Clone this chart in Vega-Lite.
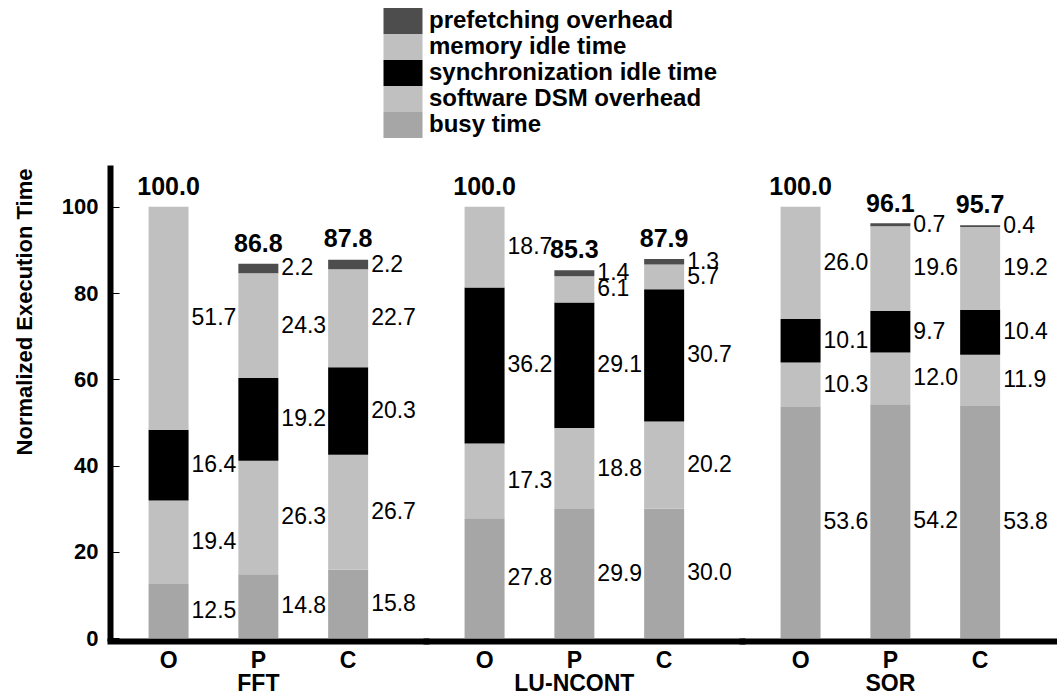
{
  "$schema": "https://vega.github.io/schema/vega-lite/v6.json",
  "padding": {"left": 13, "top": 8, "right": 0, "bottom": 0},
  "config": {
    "font": "Liberation Sans",
    "view": {"stroke": null},
    "axisX": {
      "title": null,
      "labelAngle": 0,
      "labelFontSize": 23,
      "labelFontWeight": "bold",
      "labelColor": "black",
      "labelPadding": 8,
      "labelLineHeight": 23,
      "ticks": false,
      "domainWidth": 6,
      "domainColor": "black",
      "domainCap": "square",
      "offset": 3
    },
    "legend": {
      "symbolType": "M-1.5,-1H1.5V1H-1.5Z",
      "symbolSize": 676,
      "symbolStrokeWidth": 0,
      "symbolOpacity": 1,
      "rowPadding": 0,
      "labelFont": "Liberation Sans",
      "labelFontSize": 24,
      "labelFontWeight": "bold",
      "labelColor": "black",
      "labelOffset": 13,
      "labelLimit": 600
    }
  },
  "bounds": "flush",
  "spacing": 0,
  "resolve": {"scale": {"y": "shared", "color": "shared", "x": "independent"}},
  "data": {
    "values": [
      {"bench": "FFT", "config": "O", "component": "busy time", "layer": 1, "value": 12.5},
      {"bench": "FFT", "config": "O", "component": "software DSM overhead", "layer": 2, "value": 19.4},
      {"bench": "FFT", "config": "O", "component": "synchronization idle time", "layer": 3, "value": 16.4},
      {"bench": "FFT", "config": "O", "component": "memory idle time", "layer": 4, "value": 51.7},
      {"bench": "FFT", "config": "O", "component": "total", "layer": 9, "value": 100.0},
      {"bench": "FFT", "config": "P", "component": "busy time", "layer": 1, "value": 14.8},
      {"bench": "FFT", "config": "P", "component": "software DSM overhead", "layer": 2, "value": 26.3},
      {"bench": "FFT", "config": "P", "component": "synchronization idle time", "layer": 3, "value": 19.2},
      {"bench": "FFT", "config": "P", "component": "memory idle time", "layer": 4, "value": 24.3},
      {"bench": "FFT", "config": "P", "component": "prefetching overhead", "layer": 5, "value": 2.2},
      {"bench": "FFT", "config": "P", "component": "total", "layer": 9, "value": 86.8},
      {"bench": "FFT", "config": "C", "component": "busy time", "layer": 1, "value": 15.8},
      {"bench": "FFT", "config": "C", "component": "software DSM overhead", "layer": 2, "value": 26.7},
      {"bench": "FFT", "config": "C", "component": "synchronization idle time", "layer": 3, "value": 20.3},
      {"bench": "FFT", "config": "C", "component": "memory idle time", "layer": 4, "value": 22.7},
      {"bench": "FFT", "config": "C", "component": "prefetching overhead", "layer": 5, "value": 2.2},
      {"bench": "FFT", "config": "C", "component": "total", "layer": 9, "value": 87.8},
      {"bench": "LU-NCONT", "config": "O", "component": "busy time", "layer": 1, "value": 27.8},
      {"bench": "LU-NCONT", "config": "O", "component": "software DSM overhead", "layer": 2, "value": 17.3},
      {"bench": "LU-NCONT", "config": "O", "component": "synchronization idle time", "layer": 3, "value": 36.2},
      {"bench": "LU-NCONT", "config": "O", "component": "memory idle time", "layer": 4, "value": 18.7},
      {"bench": "LU-NCONT", "config": "O", "component": "total", "layer": 9, "value": 100.0},
      {"bench": "LU-NCONT", "config": "P", "component": "busy time", "layer": 1, "value": 29.9},
      {"bench": "LU-NCONT", "config": "P", "component": "software DSM overhead", "layer": 2, "value": 18.8},
      {"bench": "LU-NCONT", "config": "P", "component": "synchronization idle time", "layer": 3, "value": 29.1},
      {"bench": "LU-NCONT", "config": "P", "component": "memory idle time", "layer": 4, "value": 6.1},
      {"bench": "LU-NCONT", "config": "P", "component": "prefetching overhead", "layer": 5, "value": 1.4},
      {"bench": "LU-NCONT", "config": "P", "component": "total", "layer": 9, "value": 85.3},
      {"bench": "LU-NCONT", "config": "C", "component": "busy time", "layer": 1, "value": 30.0},
      {"bench": "LU-NCONT", "config": "C", "component": "software DSM overhead", "layer": 2, "value": 20.2},
      {"bench": "LU-NCONT", "config": "C", "component": "synchronization idle time", "layer": 3, "value": 30.7},
      {"bench": "LU-NCONT", "config": "C", "component": "memory idle time", "layer": 4, "value": 5.7},
      {"bench": "LU-NCONT", "config": "C", "component": "prefetching overhead", "layer": 5, "value": 1.3},
      {"bench": "LU-NCONT", "config": "C", "component": "total", "layer": 9, "value": 87.9},
      {"bench": "SOR", "config": "O", "component": "busy time", "layer": 1, "value": 53.6},
      {"bench": "SOR", "config": "O", "component": "software DSM overhead", "layer": 2, "value": 10.3},
      {"bench": "SOR", "config": "O", "component": "synchronization idle time", "layer": 3, "value": 10.1},
      {"bench": "SOR", "config": "O", "component": "memory idle time", "layer": 4, "value": 26.0},
      {"bench": "SOR", "config": "O", "component": "total", "layer": 9, "value": 100.0},
      {"bench": "SOR", "config": "P", "component": "busy time", "layer": 1, "value": 54.2},
      {"bench": "SOR", "config": "P", "component": "software DSM overhead", "layer": 2, "value": 12.0},
      {"bench": "SOR", "config": "P", "component": "synchronization idle time", "layer": 3, "value": 9.7},
      {"bench": "SOR", "config": "P", "component": "memory idle time", "layer": 4, "value": 19.6},
      {"bench": "SOR", "config": "P", "component": "prefetching overhead", "layer": 5, "value": 0.7},
      {"bench": "SOR", "config": "P", "component": "total", "layer": 9, "value": 96.1},
      {"bench": "SOR", "config": "C", "component": "busy time", "layer": 1, "value": 53.8},
      {"bench": "SOR", "config": "C", "component": "software DSM overhead", "layer": 2, "value": 11.9},
      {"bench": "SOR", "config": "C", "component": "synchronization idle time", "layer": 3, "value": 10.4},
      {"bench": "SOR", "config": "C", "component": "memory idle time", "layer": 4, "value": 19.2},
      {"bench": "SOR", "config": "C", "component": "prefetching overhead", "layer": 5, "value": 0.4},
      {"bench": "SOR", "config": "C", "component": "total", "layer": 9, "value": 95.7}
    ]
  },
  "hconcat": [
    {
      "width": 316,
      "height": 470,
      "transform": [{"filter": "datum.bench === 'FFT'"}],
      "encoding": {
        "x": {
          "field": "config",
          "type": "nominal",
          "sort": ["O", "P", "C"],
          "scale": {"paddingInner": 0.5546, "paddingOuter": 0.537, "align": 0.4},
          "axis": {"labelExpr": "datum.value === 'P' ? ['P', 'FFT'] : datum.value"}
        }
      },
      "layer": [
        {
          "transform": [{"filter": "datum.component !== 'total'"}],
          "mark": {"type": "bar"},
          "encoding": {
            "y": {
              "field": "value",
              "type": "quantitative",
              "stack": "zero",
              "scale": {"domain": [0, 109], "nice": false},
              "axis": {
                "title": "Normalized Execution Time",
                "titleAnchor": "end",
                "values": [0, 20, 40, 60, 80, 100],
                "grid": false,
                "domainWidth": 6,
                "domainColor": "black",
                "domainCap": "square",
                "tickColor": "black",
                "tickSize": -9,
                "tickWidth": 1,
                "labelFontSize": 22,
                "labelFontWeight": "bold",
                "labelColor": "black",
                "labelPadding": 21,
                "titleFontSize": 22,
                "titleFontWeight": "bold",
                "titleColor": "black",
                "titlePadding": 25
              }
            },
            "order": {"field": "layer", "type": "quantitative"},
            "color": {
              "field": "component",
              "type": "nominal",
              "scale": {
                "domain": ["prefetching overhead", "memory idle time", "synchronization idle time", "software DSM overhead", "busy time"],
                "range": ["#4d4d4d", "#c0c0c0", "#000000", "#c0c0c0", "#a6a6a6"]
              },
              "legend": {"title": null, "orient": "none", "legendX": 280, "legendY": -160}
            }
          }
        },
        {
          "transform": [
            {"filter": "datum.component !== 'total'"},
            {"stack": "value", "groupby": ["bench", "config"], "sort": [{"field": "layer", "order": "ascending"}], "as": ["v0", "v1"]},
            {"calculate": "(datum.v0 + datum.v1) / 2", "as": "mid"}
          ],
          "mark": {"type": "text", "align": "left", "baseline": "middle", "dx": 23, "fontSize": 23, "font": "Liberation Sans", "color": "black"},
          "encoding": {
            "y": {"field": "mid", "type": "quantitative"},
            "text": {"field": "value", "type": "quantitative", "format": ".1f"}
          }
        },
        {
          "transform": [{"filter": "datum.component === 'total'"}],
          "mark": {"type": "text", "align": "center", "baseline": "bottom", "dy": -7, "fontSize": 25, "fontWeight": "bold", "font": "Liberation Sans", "color": "black"},
          "encoding": {
            "y": {"field": "value", "type": "quantitative"},
            "text": {"field": "value", "type": "quantitative", "format": ".1f"}
          }
        }
      ]
    },
    {
      "width": 316,
      "height": 470,
      "transform": [{"filter": "datum.bench === 'LU-NCONT'"}],
      "encoding": {
        "x": {
          "field": "config",
          "type": "nominal",
          "sort": ["O", "P", "C"],
          "scale": {"paddingInner": 0.5546, "paddingOuter": 0.537, "align": 0.4},
          "axis": {"labelExpr": "datum.value === 'P' ? ['P', 'LU-NCONT'] : datum.value"}
        }
      },
      "layer": [
        {
          "transform": [{"filter": "datum.component !== 'total'"}],
          "mark": {"type": "bar"},
          "encoding": {
            "y": {"field": "value", "type": "quantitative", "stack": "zero", "scale": {"domain": [0, 109], "nice": false}, "axis": null},
            "order": {"field": "layer", "type": "quantitative"},
            "color": {
              "field": "component",
              "type": "nominal",
              "scale": {
                "domain": ["prefetching overhead", "memory idle time", "synchronization idle time", "software DSM overhead", "busy time"],
                "range": ["#4d4d4d", "#c0c0c0", "#000000", "#c0c0c0", "#a6a6a6"]
              },
              "legend": {"title": null, "orient": "none", "legendX": 280, "legendY": -160}
            }
          }
        },
        {
          "transform": [
            {"filter": "datum.component !== 'total'"},
            {"stack": "value", "groupby": ["bench", "config"], "sort": [{"field": "layer", "order": "ascending"}], "as": ["v0", "v1"]},
            {"calculate": "(datum.v0 + datum.v1) / 2", "as": "mid"}
          ],
          "mark": {"type": "text", "align": "left", "baseline": "middle", "dx": 23, "fontSize": 23, "font": "Liberation Sans", "color": "black"},
          "encoding": {
            "y": {"field": "mid", "type": "quantitative", "axis": null},
            "text": {"field": "value", "type": "quantitative", "format": ".1f"}
          }
        },
        {
          "transform": [{"filter": "datum.component === 'total'"}],
          "mark": {"type": "text", "align": "center", "baseline": "bottom", "dy": -7, "fontSize": 25, "fontWeight": "bold", "font": "Liberation Sans", "color": "black"},
          "encoding": {
            "y": {"field": "value", "type": "quantitative", "axis": null},
            "text": {"field": "value", "type": "quantitative", "format": ".1f"}
          }
        }
      ]
    },
    {
      "width": 316,
      "height": 470,
      "transform": [{"filter": "datum.bench === 'SOR'"}],
      "encoding": {
        "x": {
          "field": "config",
          "type": "nominal",
          "sort": ["O", "P", "C"],
          "scale": {"paddingInner": 0.5546, "paddingOuter": 0.537, "align": 0.4},
          "axis": {"labelExpr": "datum.value === 'P' ? ['P', 'SOR'] : datum.value"}
        }
      },
      "layer": [
        {
          "transform": [{"filter": "datum.component !== 'total'"}],
          "mark": {"type": "bar"},
          "encoding": {
            "y": {"field": "value", "type": "quantitative", "stack": "zero", "scale": {"domain": [0, 109], "nice": false}, "axis": null},
            "order": {"field": "layer", "type": "quantitative"},
            "color": {
              "field": "component",
              "type": "nominal",
              "scale": {
                "domain": ["prefetching overhead", "memory idle time", "synchronization idle time", "software DSM overhead", "busy time"],
                "range": ["#4d4d4d", "#c0c0c0", "#000000", "#c0c0c0", "#a6a6a6"]
              },
              "legend": {"title": null, "orient": "none", "legendX": 280, "legendY": -160}
            }
          }
        },
        {
          "transform": [
            {"filter": "datum.component !== 'total'"},
            {"stack": "value", "groupby": ["bench", "config"], "sort": [{"field": "layer", "order": "ascending"}], "as": ["v0", "v1"]},
            {"calculate": "(datum.v0 + datum.v1) / 2", "as": "mid"}
          ],
          "mark": {"type": "text", "align": "left", "baseline": "middle", "dx": 23, "fontSize": 23, "font": "Liberation Sans", "color": "black"},
          "encoding": {
            "y": {"field": "mid", "type": "quantitative", "axis": null},
            "text": {"field": "value", "type": "quantitative", "format": ".1f"}
          }
        },
        {
          "transform": [{"filter": "datum.component === 'total'"}],
          "mark": {"type": "text", "align": "center", "baseline": "bottom", "dy": -7, "fontSize": 25, "fontWeight": "bold", "font": "Liberation Sans", "color": "black"},
          "encoding": {
            "y": {"field": "value", "type": "quantitative", "axis": null},
            "text": {"field": "value", "type": "quantitative", "format": ".1f"}
          }
        }
      ]
    }
  ]
}
